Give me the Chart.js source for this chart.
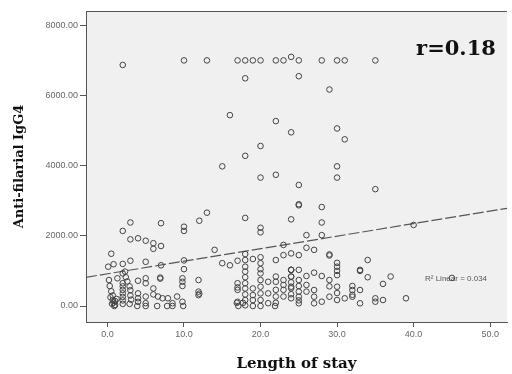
<!DOCTYPE html>
<html>
<head>
<meta charset="utf-8">
<script src="https://cdn.jsdelivr.net/npm/chart.js@4"></script>
<style>
  body { margin: 0; background: #fff; }
  canvas { display: block; }
</style>
</head>
<body>
<canvas id="chart" width="512" height="374"></canvas>
<script>
// --- DATA: length of stay vs anti-filarial IgG4 ---
const stayDays = [
  2, 10, 13, 17, 18, 19, 20, 22, 23, 24, 25, 28, 30, 31, 35,
  18, 25, 29, 16, 22, 24, 30, 31, 20, 18, 15, 30, 20, 22, 30, 25, 35,
  25, 25, 28, 28, 26, 28, 24, 40,
  3, 2, 7, 10, 10, 12, 13, 18, 20, 20, 3, 4, 5, 6, 6, 7, 0.5, 14, 18,
  0.1, 0.8, 2, 3, 5, 7, 10, 10, 15, 16, 17, 18, 19, 20, 23, 26, 27, 24, 25,
  29, 29, 30, 30, 30, 30, 34, 33, 33, 37, 34, 36, 45, 39, 22, 24,
  0.2, 0.3, 1.3, 0.5, 0.7, 0.7, 0.8, 1, 0.6, 1.2, 0.4, 1, 0.9,
  2, 2.3, 2, 2, 2, 2, 2, 2, 2, 2.4, 2.6,
  2.9, 3, 3, 2.9, 3.1, 4, 4, 4, 4, 3.9, 5, 5, 5, 5, 5,
  6, 6, 6.5, 6.6, 6.9, 6.9, 7.2, 7.9, 8.5, 8.5, 7.8, 9.1,
  9.8, 9.8, 9.8, 9.8, 9.9, 11.9, 11.9, 11.9, 12,
  17, 17, 17, 17, 17.1, 16.9,
  18, 18, 18, 18, 18, 18, 18, 18, 17.7,
  19, 19, 19, 19,
  20, 20, 20, 20, 20, 20, 20, 20,
  21, 21, 21, 22, 22, 22, 22, 22, 21.9,
  23, 23, 23, 23, 23, 24, 24, 24, 24,
  24, 25, 24, 24, 24, 24, 25, 26, 27, 28, 29, 29, 30, 30, 32, 32, 32, 33,
  25, 27, 27, 28, 29, 30, 31, 32, 33, 35, 35, 36,
  25, 25, 25, 25, 26, 26, 27
];
const igg4 = [
  6870, 7000, 7000, 7000, 7000, 7000, 7000, 7000, 7000, 7100, 7000, 7000, 7000, 7000, 7000,
  6490, 6550, 6170, 5440, 5270, 4950, 5060, 4750, 4560, 4280, 3980, 3980, 3660, 3740, 3660, 3450, 3330,
  2900, 2870, 2820, 2380, 2020, 2020, 2470, 2310,
  2380, 2140, 2360, 2260, 2140, 2430, 2660, 2510, 2230, 2100, 1900, 1930, 1860, 1790, 1630, 1710, 1490, 1600, 1480,
  1120, 1190, 1200, 1290, 1260, 1160, 1300, 1050, 1220, 1160, 1290, 1310, 1340, 1390, 1740, 1660, 1600, 1500, 1450,
  1470, 1440, 1230, 1120, 1000, 880, 1310, 1030, 1000, 840, 820, 630, 800, 220, 1310, 1030,
  740, 570, 790, 420, 300, 170, 100, 30, 60, 200, 250, 140, 0,
  930, 980, 650, 560, 460, 360, 260, 160, 60, 820, 700,
  560, 450, 300, 60, 180, 720, 360, 220, 120, 0, 790, 650, 270, 80, 0,
  500, 330, 0, 270, 810, 780, 220, 220, 80, 0, 0, 270,
  790, 690, 570, 120, 0, 740, 410, 310, 350,
  650, 530, 460, 120, 0, 90,
  1120, 980, 820, 650, 500, 330, 170, 20, 90,
  500, 310, 170, 0,
  1220, 1050, 930, 740, 550, 360, 170, 0,
  690, 360, 80, 840, 690, 460, 270, 90, 0,
  1450, 740, 600, 460, 270, 1030, 840, 550, 220,
  1030, 1030, 835, 675, 505, 335, 160, 855, 950, 855, 740, 560, 550, 370, 570, 455, 320, 455,
  77, 265, 77, 123, 265, 171, 219, 265, 77, 219, 123, 171,
  740, 570, 410, 265, 600, 410, 455
];
const xTicks = [0, 10, 20, 30, 40, 50];
const yTicks = [0, 2000, 4000, 6000, 8000];
// linear fit line, ends at the plot edges
const fitX = [-2.8, 52.2];
const fitY = [818, 2785];

const points = stayDays.map((d, i) => ({ x: d, y: igg4[i] }));
const fitLine = fitX.map((d, i) => ({ x: d, y: fitY[i] }));

// plot box, background and the extra texts
const framePlugin = {
  id: 'frame',
  beforeDraw(chart) {
    const { ctx, chartArea: a } = chart;
    ctx.save();
    ctx.fillStyle = '#f0f0f0';
    ctx.fillRect(a.left, a.top, a.right - a.left, a.bottom - a.top);
    ctx.restore();
  },
  afterDraw(chart) {
    const { ctx, chartArea: a } = chart;
    ctx.save();
    ctx.strokeStyle = '#555';
    ctx.lineWidth = 1;
    ctx.beginPath();
    ctx.moveTo(a.left, a.top + 0.5);
    ctx.lineTo(a.right, a.top + 0.5);
    ctx.stroke();

    ctx.fillStyle = '#111';
    ctx.font = 'bold 21px "DejaVu Serif"';
    ctx.textAlign = 'center';
    ctx.textBaseline = 'middle';
    ctx.fillText('r=0.18', 456, 50);

    ctx.font = 'bold 15px "DejaVu Serif"';
    ctx.fillText('Length of stay', (a.left + a.right) / 2, 364);

    ctx.font = 'bold 13px "DejaVu Serif"';
    ctx.translate(20, (a.top + a.bottom) / 2);
    ctx.rotate(-Math.PI / 2);
    ctx.fillText('Anti-filarial IgG4', 0, 0);
    ctx.restore();

    ctx.save();
    ctx.fillStyle = '#555';
    ctx.font = '8px "Liberation Sans"';
    ctx.textAlign = 'left';
    ctx.textBaseline = 'middle';
    ctx.fillText('R\u00b2 Linear = 0.034', 425, 279);
    ctx.restore();
  }
};

new Chart(document.getElementById('chart'), {
  type: 'scatter',
  data: {
    datasets: [
      {
        data: points,
        pointStyle: 'circle',
        pointRadius: 2.8,
        pointBorderWidth: 1,
        pointBorderColor: '#444',
        pointBackgroundColor: 'rgba(0,0,0,0)'
      },
      {
        type: 'line',
        data: fitLine,
        borderColor: '#555',
        borderWidth: 1.2,
        borderDash: [11, 3],
        pointRadius: 0,
        fill: false
      }
    ]
  },
  options: {
    responsive: false,
    animation: false,
    layout: { padding: { top: 11, right: 0, left: 0, bottom: 0 } },
    plugins: { legend: { display: false }, tooltip: { enabled: false } },
    scales: {
      x: {
        type: 'linear',
        min: -2.8,
        max: 52.2,
        afterBuildTicks: s => { s.ticks = xTicks.map(v => ({ value: v })); },
        afterFit: s => { s.height = 52; },
        ticks: { callback: v => v.toFixed(1), color: '#666', font: { size: 9, family: 'Liberation Sans' }, padding: 2, maxRotation: 0 },
        grid: { drawOnChartArea: false, tickLength: 5, color: '#555' },
        border: { color: '#555' }
      },
      y: {
        min: -456,
        max: 8408,
        afterBuildTicks: s => { s.ticks = yTicks.map(v => ({ value: v })); },
        afterFit: s => { s.width = 86; },
        ticks: { callback: v => v.toFixed(2), color: '#666', font: { size: 9, family: 'Liberation Sans' }, padding: 2 },
        grid: { drawOnChartArea: false, tickLength: 6, color: '#555' },
        border: { color: '#555' }
      }
    }
  },
  plugins: [framePlugin]
});
</script>
</body>
</html>
